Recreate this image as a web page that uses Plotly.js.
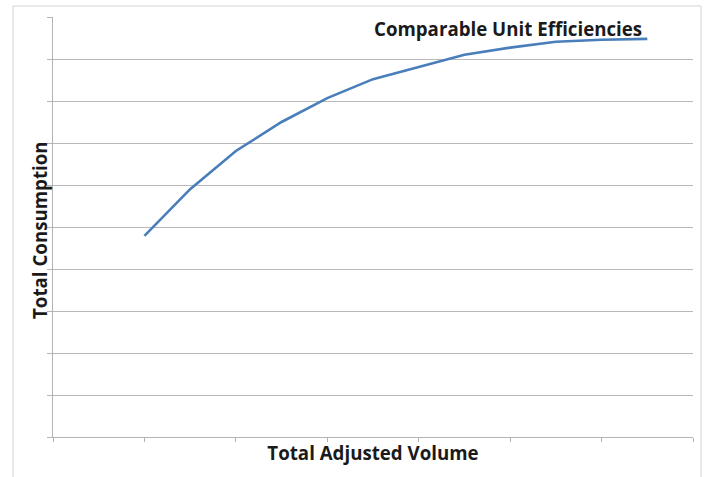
<!DOCTYPE html>
<html>
<head>
<meta charset="utf-8">
<script src="https://cdn.plot.ly/plotly-3.0.1.min.js"></script>
<style>html,body{margin:0;padding:0;background:#fff;}#chart{width:707px;height:477px;}</style>
</head>
<body>
<div id="chart"></div>
<script>
const chartTitle = "Comparable Unit Efficiencies";
const xTitle = "Total Adjusted Volume";
const yTitle = "Total Consumption";
const volume = [2, 3, 4, 5, 6, 7, 8, 9, 10, 11, 12, 13];
const consumption = [4.79, 5.90, 6.81, 7.50, 8.07, 8.52, 8.81, 9.10, 9.27, 9.41, 9.46, 9.48];

const font = "'Open Sans', 'Noto Sans', sans-serif";

const trace = {
  x: volume,
  y: consumption,
  type: "scatter",
  mode: "lines",
  line: {color: "#4a7ebb", width: 2.6, shape: "linear"},
  hoverinfo: "skip",
  showlegend: false
};

const layout = {
  width: 707,
  height: 477,
  margin: {l: 53, r: 14, t: 17, b: 40, pad: 0},
  paper_bgcolor: "#ffffff",
  plot_bgcolor: "#ffffff",
  title: {
    text: "<b>" + chartTitle + "</b>",
    font: {family: font, size: 18.7, color: "#1a1a1a"},
    xref: "paper", yref: "paper",
    x: 0.711, y: 0.971, xanchor: "center", yanchor: "middle"
  },
  xaxis: {
    range: [0, 14],
    dtick: 2, tick0: 0,
    showticklabels: false,
    ticks: "outside", ticklen: 4, tickcolor: "#b3b3b3", tickwidth: 1,
    showgrid: false, zeroline: false,
    showline: true, linecolor: "#b3b3b3", linewidth: 1,
    fixedrange: true,
    title: {text: "<b>" + xTitle + "</b>", font: {family: font, size: 18.7, color: "#1a1a1a"}, standoff: 5}
  },
  yaxis: {
    range: [0, 10],
    dtick: 1, tick0: 0,
    showticklabels: false,
    ticks: "outside", ticklen: 5, tickcolor: "#b3b3b3", tickwidth: 1,
    showgrid: true, gridcolor: "#b8b8b8", gridwidth: 1,
    zeroline: false,
    showline: true, linecolor: "#b3b3b3", linewidth: 1,
    fixedrange: true
  },
  annotations: [
    {text: "<b>" + yTitle + "</b>", textangle: -90,
     xref: "paper", yref: "paper", x: -0.0203, y: 0.493,
     xanchor: "center", yanchor: "middle", showarrow: false,
     font: {family: font, size: 18.7, color: "#1a1a1a"}}
  ],
  shapes: [
    {type: "rect", xref: "paper", yref: "paper",
     x0: -0.0625, x1: 1.0125, y0: -0.2, y1: 1.0262,
     line: {color: "#d4d4d4", width: 1}, fillcolor: "rgba(0,0,0,0)", layer: "below"}
  ]
};

Plotly.newPlot("chart", [trace], layout, {displayModeBar: false, staticPlot: true});
</script>
</body>
</html>
